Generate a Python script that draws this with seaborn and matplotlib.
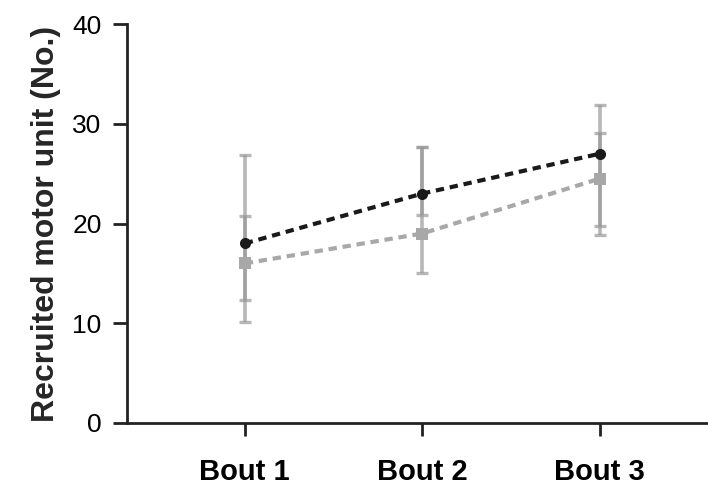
import matplotlib
matplotlib.use("Agg")
import matplotlib.pyplot as plt
import seaborn as sns
import numpy as np
import pandas as pd

categories = ["Bout 1", "Bout 2", "Bout 3"]
series_names = ["Group A", "Group B"]
mean_a = [18.0, 23.0, 27.0]
lower_a = [10.1, 20.9, 18.8]
upper_a = [26.9, 27.7, 31.9]
mean_b = [16.0, 19.0, 24.5]
lower_b = [12.3, 15.0, 19.8]
upper_b = [20.8, 27.7, 29.1]
y_ticks = [0, 10, 20, 30, 40]

sns.set_theme(style="ticks")
plt.rcParams["font.family"] = ["Liberation Sans", "DejaVu Sans"]

fig = plt.figure(figsize=(7.08, 4.91), dpi=100)
ax = fig.add_axes([0.179, 0.1385, 0.821, 0.8125])

pos = np.arange(len(categories))
df = pd.DataFrame({
    "pos": np.concatenate([pos, pos]),
    "value": mean_a + mean_b,
    "series": [series_names[0]] * 3 + [series_names[1]] * 3,
})

# error bars
for m, lo, hi in [(mean_b, lower_b, upper_b), (mean_a, lower_a, upper_a)]:
    m = np.array(m); lo = np.array(lo); hi = np.array(hi)
    ax.errorbar(pos, m, yerr=[m - lo, hi - m], fmt="none", ecolor="#999999",
                alpha=0.7, elinewidth=2.6, capsize=4.5, capthick=2.4, zorder=2)

sns.lineplot(data=df, x="pos", y="value", hue="series", style="series",
             palette={series_names[0]: "#1a1a1a", series_names[1]: "#a8a8a8"},
             markers={series_names[0]: "o", series_names[1]: "s"},
             dashes={series_names[0]: (2.0, 1.4), series_names[1]: (2.0, 1.4)},
             linewidth=3.0, markersize=8, markeredgewidth=0, ax=ax, legend=False, zorder=3)

ax.set_xlim(-0.665, 2.61)
ax.set_ylim(0, 40)
ax.set_xticks(pos)
ax.set_xticklabels(categories, fontsize=21, fontweight="bold")
ax.set_yticks(y_ticks)
ax.set_yticklabels([str(t) for t in y_ticks], fontsize=19)
ax.set_xlabel("")
ax.set_ylabel("Recruited motor unit (No.)", fontsize=23, fontweight="bold", labelpad=8)

for s in ["top", "right"]:
    ax.spines[s].set_visible(False)
for s in ["left", "bottom"]:
    ax.spines[s].set_linewidth(2.0)
    ax.spines[s].set_color("#222222")
ax.tick_params(axis="y", length=10, width=2.0, pad=8, colors="#222222", labelcolor="black")
ax.tick_params(axis="x", length=9, width=2.0, pad=16, colors="#222222", labelcolor="black")
ax.set_facecolor("white")
fig.patch.set_facecolor("white")

fig.savefig("out.png", dpi=100)
